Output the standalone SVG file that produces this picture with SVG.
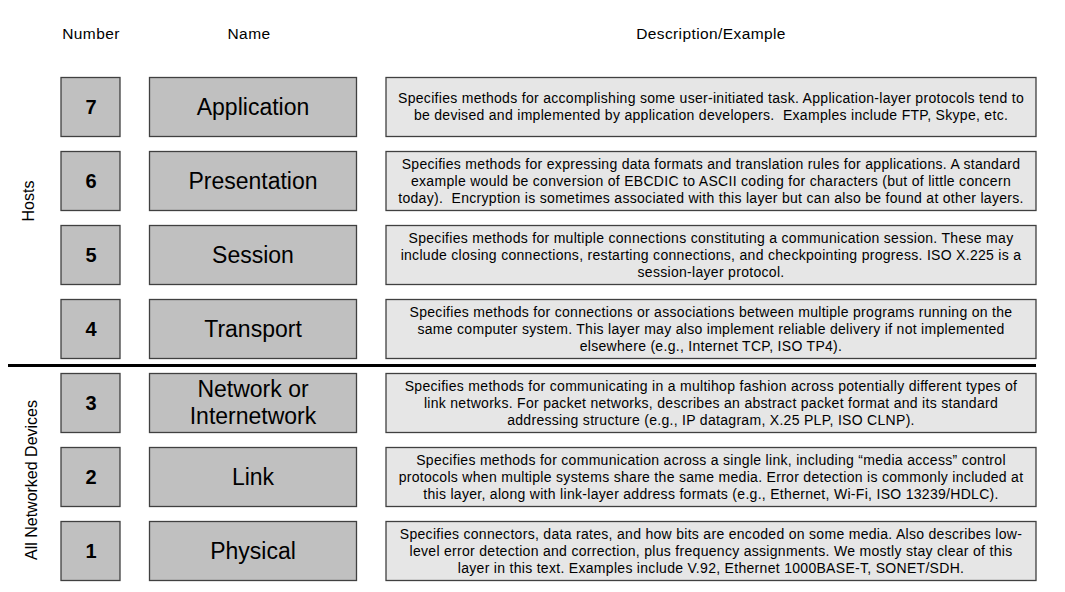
<svg xmlns="http://www.w3.org/2000/svg" width="1065" height="592" viewBox="0 0 1065 592">
  <style>
    text { font-family: "Liberation Sans", Arial, sans-serif; fill: #000; }
    .hdr { font-size: 15.5px; letter-spacing: 0.4px; text-anchor: middle; }
    .side { font-size: 16px; text-anchor: middle; }
    .numbox, .namebox { fill: #c0c0c0; stroke: #404040; stroke-width: 1.3; }
    .descbox { fill: #e6e6e6; stroke: #404040; stroke-width: 1.3; }
    .num { font-size: 20px; font-weight: bold; text-anchor: middle; }
    .name { font-size: 23px; text-anchor: middle; }
    .desc { font-size: 14px; letter-spacing: 0.3px; text-anchor: middle; white-space: pre; }
  </style>

  <!-- column headers -->
  <text class="hdr" x="91" y="39">Number</text>
  <text class="hdr" x="249" y="39">Name</text>
  <text class="hdr" x="711" y="39">Description/Example</text>

  <!-- side labels -->
  <text class="side" transform="translate(34,201) rotate(-90)">Hosts</text>
  <text class="side" transform="translate(37,480) rotate(-90)">All Networked Devices</text>

  <!-- divider between host and network layers -->
  <line x1="8" y1="365.5" x2="1036" y2="365.5" stroke="#000" stroke-width="3"/>

  <g id="layer7">
    <rect class="numbox" x="61" y="77.5" width="59" height="59"/>
    <text class="num" x="91" y="114">7</text>
    <rect class="namebox" x="149.5" y="77.5" width="207" height="59"/>
    <text class="name" x="253" y="115">Application</text>
    <rect class="descbox" x="386" y="77.5" width="650" height="59"/>
    <text class="desc" x="711" y="102.5">Specifies methods for accomplishing some user-initiated task. Application-layer protocols tend to</text>
    <text class="desc" x="711" y="119.5">be devised and implemented by application developers.  Examples include FTP, Skype, etc.</text>
  </g>

  <g id="layer6">
    <rect class="numbox" x="61" y="151.5" width="59" height="59"/>
    <text class="num" x="91" y="188">6</text>
    <rect class="namebox" x="149.5" y="151.5" width="207" height="59"/>
    <text class="name" x="253" y="189">Presentation</text>
    <rect class="descbox" x="386" y="151.5" width="650" height="59"/>
    <text class="desc" x="711" y="169">Specifies methods for expressing data formats and translation rules for applications. A standard</text>
    <text class="desc" x="711" y="186">example would be conversion of EBCDIC to ASCII coding for characters (but of little concern</text>
    <text class="desc" x="711" y="203">today).  Encryption is sometimes associated with this layer but can also be found at other layers.</text>
  </g>

  <g id="layer5">
    <rect class="numbox" x="61" y="225.5" width="59" height="59"/>
    <text class="num" x="91" y="262">5</text>
    <rect class="namebox" x="149.5" y="225.5" width="207" height="59"/>
    <text class="name" x="253" y="263">Session</text>
    <rect class="descbox" x="386" y="225.5" width="650" height="59"/>
    <text class="desc" x="711" y="243">Specifies methods for multiple connections constituting a communication session. These may</text>
    <text class="desc" x="711" y="260">include closing connections, restarting connections, and checkpointing progress. ISO X.225 is a</text>
    <text class="desc" x="711" y="277">session-layer protocol.</text>
  </g>

  <g id="layer4">
    <rect class="numbox" x="61" y="299.5" width="59" height="59"/>
    <text class="num" x="91" y="336">4</text>
    <rect class="namebox" x="149.5" y="299.5" width="207" height="59"/>
    <text class="name" x="253" y="337">Transport</text>
    <rect class="descbox" x="386" y="299.5" width="650" height="59"/>
    <text class="desc" x="711" y="317">Specifies methods for connections or associations between multiple programs running on the</text>
    <text class="desc" x="711" y="334">same computer system. This layer may also implement reliable delivery if not implemented</text>
    <text class="desc" x="711" y="351">elsewhere (e.g., Internet TCP, ISO TP4).</text>
  </g>

  <g id="layer3">
    <rect class="numbox" x="61" y="373.5" width="59" height="59"/>
    <text class="num" x="91" y="410">3</text>
    <rect class="namebox" x="149.5" y="373.5" width="207" height="59"/>
    <text class="name" x="253" y="397">Network or</text>
    <text class="name" x="253" y="424">Internetwork</text>
    <rect class="descbox" x="386" y="373.5" width="650" height="59"/>
    <text class="desc" x="711" y="391">Specifies methods for communicating in a multihop fashion across potentially different types of</text>
    <text class="desc" x="711" y="408">link networks. For packet networks, describes an abstract packet format and its standard</text>
    <text class="desc" x="711" y="425">addressing structure (e.g., IP datagram, X.25 PLP, ISO CLNP).</text>
  </g>

  <g id="layer2">
    <rect class="numbox" x="61" y="447.5" width="59" height="59"/>
    <text class="num" x="91" y="484">2</text>
    <rect class="namebox" x="149.5" y="447.5" width="207" height="59"/>
    <text class="name" x="253" y="485">Link</text>
    <rect class="descbox" x="386" y="447.5" width="650" height="59"/>
    <text class="desc" x="711" y="465">Specifies methods for communication across a single link, including “media access” control</text>
    <text class="desc" x="711" y="482">protocols when multiple systems share the same media. Error detection is commonly included at</text>
    <text class="desc" x="711" y="499">this layer, along with link-layer address formats (e.g., Ethernet, Wi-Fi, ISO 13239/HDLC).</text>
  </g>

  <g id="layer1">
    <rect class="numbox" x="61" y="521.5" width="59" height="59"/>
    <text class="num" x="91" y="558">1</text>
    <rect class="namebox" x="149.5" y="521.5" width="207" height="59"/>
    <text class="name" x="253" y="559">Physical</text>
    <rect class="descbox" x="386" y="521.5" width="650" height="59"/>
    <text class="desc" x="711" y="539">Specifies connectors, data rates, and how bits are encoded on some media. Also describes low-</text>
    <text class="desc" x="711" y="556">level error detection and correction, plus frequency assignments. We mostly stay clear of this</text>
    <text class="desc" x="711" y="573">layer in this text. Examples include V.92, Ethernet 1000BASE-T, SONET/SDH.</text>
  </g>

  <!-- no connectors in this layer table -->
  <g id="connectors"/>
</svg>
